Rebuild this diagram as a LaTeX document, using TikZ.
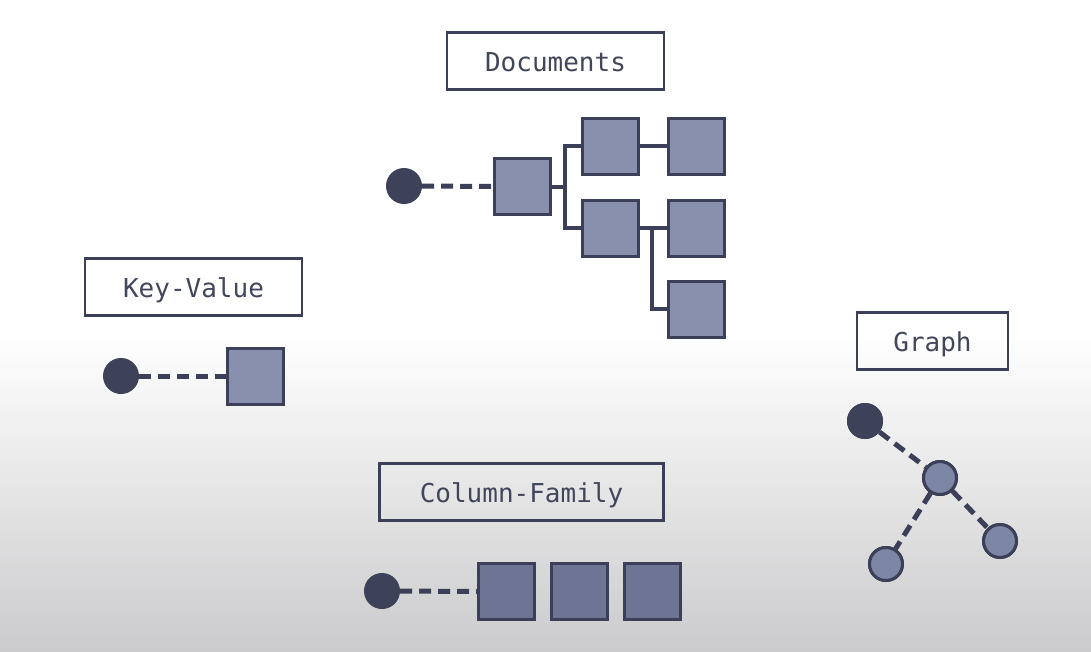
\documentclass[tikz,border=0pt]{standalone}
\usepackage{fontspec}
\setmonofont{DejaVu Sans Mono}
\definecolor{ink}{HTML}{3B4058}
\definecolor{txt}{HTML}{42465B}
\definecolor{docfill}{HTML}{8890AE}
\definecolor{colfill}{HTML}{6E7493}
\definecolor{dot}{HTML}{3D4259}
\definecolor{gfill}{HTML}{7E86A5}
\definecolor{bgbot}{HTML}{CBCBCD}
\begin{document}
\begin{tikzpicture}[x=1pt,y=-1pt,
  label/.style={draw=ink,line width=2.6pt,inner sep=0pt,minimum height=57pt,
    text height=22pt,text depth=2pt,
    font=\fontsize{26}{30}\selectfont\ttfamily,text=txt},
  sq/.style={draw=ink,line width=3pt,fill=docfill,inner sep=0pt,minimum size=56pt},
  csq/.style={sq,fill=colfill},
  dotc/.style={circle,fill=dot,inner sep=0pt,minimum size=36pt},
  gc/.style={circle,draw=ink,line width=3pt,fill=gfill,inner sep=0pt,minimum size=33pt},
  link/.style={draw=ink,line width=4pt},
  dlink/.style={draw=ink,line width=5pt,dash pattern=on 12pt off 7pt}]
\useasboundingbox (0,0) rectangle (1091,651);
\fill[white] (0,0) rectangle (1091,651);
\shade[top color=white,bottom color=bgbot] (0,335) rectangle (1091,651);

% Documents
\node[label,minimum width=217pt] (docl) at (555.5,61) {Documents};
\node[dotc] (dd) at (404,186) {};
\node[sq] (root) at (522.5,186.5) {};
\node[sq] (c1) at (610,146) {};
\node[sq] (c1b) at (696.5,146) {};
\node[sq] (c2) at (610,228) {};
\node[sq] (c2b) at (696.5,228) {};
\node[sq] (c3) at (696.5,309) {};
\coordinate (j1) at (565,186.5);
\coordinate (j2) at (652,228);
\draw[dlink] (dd.east) -- (root.west);
\draw[link] (root.east) -- (j1);
\draw[link] (c1.west) -| (j1) |- (c2.west);
\draw[link] (c1.east) -- (c1b.west);
\draw[link] (c2.east) -- (c2b.west);
\draw[link] (j2) |- (c3.west);

% Key-Value
\node[label,minimum width=217pt] (kvl) at (193.5,287) {Key-Value};
\node[dotc] (kd) at (121,376) {};
\node[sq] (ks) at (255.5,376) {};
\draw[dlink] (kd.east) -- (ks.west);

% Graph
\node[label,minimum width=151pt] (gl) at (932.5,341) {Graph};
\node[dotc] (g0) at (865,421) {};
\node[gc] (g1) at (940,478) {};
\node[gc] (g2) at (886,564) {};
\node[gc] (g3) at (1000,541) {};
\draw[dlink] (g0) -- (g1);
\draw[dlink] (g1) -- (g2);
\draw[dlink] (g1) -- (g3);
\node[dotc] at (865,421) {};
\node[gc] at (940,478) {};
\node[gc] at (886,564) {};
\node[gc] at (1000,541) {};

% Column-Family
\node[label,minimum width=284pt] (cfl) at (521.5,492) {Column-Family};
\node[dotc] (cd) at (382,591) {};
\node[csq] (cs1) at (506.5,591.5) {};
\node[csq] (cs2) at (579.5,591.5) {};
\node[csq] (cs3) at (652.5,591.5) {};
\draw[dlink] (cd.east) -- (cs1.west);
\end{tikzpicture}
\end{document}
